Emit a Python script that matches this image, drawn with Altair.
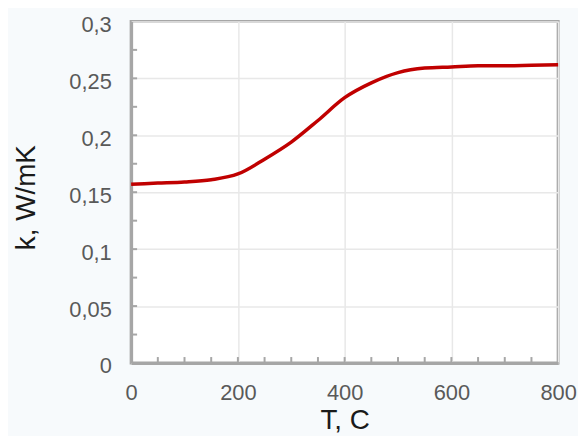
import altair as alt
import pandas as pd

# Curve data
T = [0, 50, 100, 150, 200, 250, 300, 350, 400, 450, 500, 550, 600, 650, 700, 750, 800]
k = [0.157, 0.158, 0.159, 0.161, 0.166, 0.179, 0.194, 0.213, 0.233, 0.246, 0.255, 0.259,
     0.260, 0.261, 0.261, 0.2615, 0.262]

# Axis ticks / labels
x_major = [0, 200, 400, 600, 800]
y_major = [0, 0.05, 0.1, 0.15, 0.2, 0.25, 0.3]
x_minor = [50, 100, 150, 200, 250, 300, 350, 400, 450, 500, 550, 600, 650, 700, 750]
y_minor = [0.025, 0.05, 0.075, 0.1, 0.125, 0.15, 0.175, 0.2, 0.225, 0.25, 0.275]

W, H = 430, 344
FONT = "Liberation Sans"

df = pd.DataFrame({"T": T, "k": k})
xs = alt.Scale(domain=[0, 800], nice=False)
ys = alt.Scale(domain=[0, 0.3], nice=False)

line = alt.Chart(df).mark_line(color="#c00000", strokeWidth=3.5, interpolate="monotone").encode(
    x=alt.X("T:Q", scale=xs,
            axis=alt.Axis(values=x_major, title="T, C", grid=True, ticks=False, tickSize=0,
                          labelPadding=20, labelFlush=False, titleX=W / 2, titleY=66,
                          titleBaseline="alphabetic")),
    y=alt.Y("k:Q", scale=ys,
            axis=alt.Axis(values=y_major, title="k, W/mK", grid=True, ticks=False, tickSize=0,
                          labelPadding=20, labelOffset=3, labelFlush=False,
                          labelExpr="replace(format(datum.value, '.2~f'), '.', ',')",
                          titleX=-97, titleY=177, titleAngle=270,
                          titleBaseline="alphabetic")),
)

xt = alt.Chart(pd.DataFrame({"T": x_minor})).mark_rule(color="#a6a6a6", strokeWidth=2).encode(
    x=alt.X("T:Q", scale=xs), y=alt.value(H), y2=alt.value(H - 6)
)
yt = alt.Chart(pd.DataFrame({"k": y_minor})).mark_rule(color="#a6a6a6", strokeWidth=2).encode(
    y=alt.Y("k:Q", scale=ys), x=alt.value(0), x2=alt.value(6)
)

chart = alt.layer(xt, yt, line).properties(
    width=W, height=H,
    autosize=alt.AutoSizeParams(type="none"),
    padding={"left": 124, "top": 12, "right": 20, "bottom": 72},
    background="#f7fafc",
).configure_view(
    fill="white", stroke="#a6a6a6", strokeWidth=3
).configure_axis(
    labelFont=FONT, labelFontSize=22, labelColor="#595959",
    titleFont=FONT, titleFontSize=28, titleColor="#1a1a1a", titleFontWeight="normal",
    domainColor="#a6a6a6", domainWidth=3,
    gridColor="#e8e8e8", gridWidth=1.5,
)

chart.save("out.html", embed_options={"renderer": "svg", "actions": False})
